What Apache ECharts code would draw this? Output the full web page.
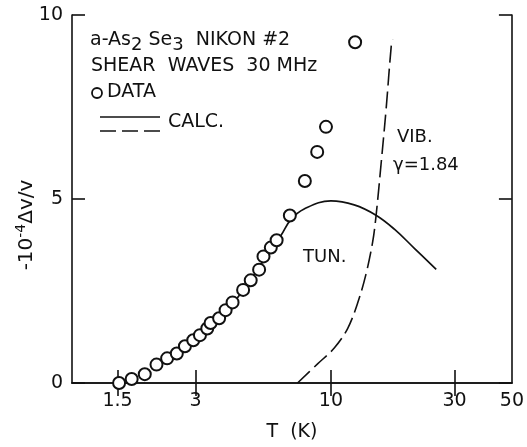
<!DOCTYPE html>
<html>
<head>
<meta charset="utf-8">
<script src="https://cdn.jsdelivr.net/npm/echarts@6/dist/echarts.min.js"></script>
<style>
  html, body { margin: 0; padding: 0; background: #fff; }
  #main { width: 527px; height: 447px; }
</style>
</head>
<body>
<div id="main"></div>
<script>
// measured data (T in K, -1e-4 dv/v)
var dataT = [1.52,1.70,1.91,2.12,2.33,2.54,2.73,2.94,3.12,3.33,3.43,3.70,3.92,4.17,4.58,4.90,5.28,5.49,5.86,6.17,6.94,7.93,8.85,9.57,12.4];
var dataV = [0.00,0.11,0.24,0.50,0.67,0.80,1.00,1.16,1.30,1.48,1.63,1.76,1.98,2.19,2.53,2.79,3.08,3.44,3.68,3.88,4.55,5.49,6.28,6.96,9.26];

// calculated: tunneling
var tunT = [3.0,4.0,5.0,5.7,6.41,7.0,7.88,10.0,12.3,14.93,17.58,21.0,25.5];
var tunV = [1.18,2.0,2.9,3.5,4.01,4.44,4.73,4.95,4.84,4.56,4.18,3.66,3.09];

// calculated: vibrational, gamma = 1.84
var vibT = [7.43,8.88,10.3,11.6,12.69,13.66,14.5,14.93,15.61,16.32,17.1,17.3];
var vibV = [0.0,0.52,0.95,1.48,2.18,2.96,3.84,4.53,5.93,7.41,9.16,9.33];

var xLabels = [1.5,3,10,30,50];
var xTicks = [1.5,3,10,30];

function pairs(xs, ys) {
    var out = [];
    for (var i = 0; i < xs.length; i++) out.push([xs[i], ys[i]]);
    return out;
}

var ink = '#111';
var font = 'DejaVu Sans';

var myChart = echarts.init(document.getElementById('main'));
var option = {
    backgroundColor: '#fff',
    animation: false,
    textStyle: { fontFamily: font, color: ink },
    grid: { left: 72, right: 13, top: 15, bottom: 51 },
    xAxis: [{
        type: 'log',
        logBase: 10,
        min: 1,
        max: 50,
        name: 'T  (K)',
        nameLocation: 'middle',
        nameGap: 40,
        nameTextStyle: { fontSize: 19, color: ink, fontFamily: font },
        axisLine: { lineStyle: { color: ink, width: 1.6 } },
        axisTick: { inside: true, length: 13, customValues: xTicks, lineStyle: { color: ink, width: 1.6 } },
        axisLabel: { customValues: xLabels, fontSize: 19, color: ink, margin: 9, fontFamily: font },
        splitLine: { show: false },
        minorTick: { show: false }
    }, {
        type: 'log',
        logBase: 10,
        min: 1,
        max: 50,
        position: 'top',
        axisLine: { lineStyle: { color: ink, width: 1.6 } },
        axisTick: { inside: true, length: 13, customValues: xTicks, lineStyle: { color: ink, width: 1.6 } },
        axisLabel: { show: false },
        splitLine: { show: false }
    }],
    yAxis: [{
        type: 'value',
        min: 0,
        max: 10,
        interval: 5,
        axisLine: { show: true, lineStyle: { color: ink, width: 1.6 } },
        axisTick: { show: true, inside: true, length: 13, lineStyle: { color: ink, width: 1.6 } },
        axisLabel: { fontSize: 19, color: ink, margin: 9, fontFamily: font },
        splitLine: { show: false }
    }, {
        type: 'value',
        min: 0,
        max: 10,
        interval: 5,
        position: 'right',
        axisLine: { show: true, lineStyle: { color: ink, width: 1.6 } },
        axisTick: { show: true, inside: true, length: 13, lineStyle: { color: ink, width: 1.6 } },
        axisLabel: { show: false },
        splitLine: { show: false }
    }],
    series: [{
        name: 'TUN.',
        type: 'line',
        data: pairs(tunT, tunV),
        smooth: 0.4,
        showSymbol: false,
        lineStyle: { color: ink, width: 1.7 },
        z: 2
    }, {
        name: 'VIB.',
        type: 'line',
        data: pairs(vibT, vibV),
        smooth: 0.35,
        showSymbol: false,
        lineStyle: { color: ink, width: 1.6, type: [17, 6] },
        z: 2
    }, {
        name: 'DATA',
        type: 'scatter',
        data: pairs(dataT, dataV),
        symbol: 'circle',
        symbolSize: 12,
        itemStyle: { color: '#fff', borderColor: ink, borderWidth: 2, opacity: 1 },
        z: 3
    }],
    graphic: [
        { type: 'text', x: 27, y: 225, rotation: Math.PI / 2, style: {
            text: '-10{sup|-4}Δv/v', fontSize: 20, fontFamily: font, fill: ink,
            align: 'center', verticalAlign: 'middle',
            rich: { sup: { fontSize: 14, padding: [0, 0, 12, 0], fontFamily: font, fill: ink } } } },
        { type: 'text', left: 90, top: 31, style: {
            text: 'a-As{sub|2} Se{sub|3}  NIKON #2', fontSize: 19, fontFamily: font, fill: ink,
            rich: { sub: { fontSize: 18, padding: [9, 0, 0, 0], fontFamily: font, fill: ink } } } },
        { type: 'text', left: 91, top: 57, style: { text: 'SHEAR  WAVES  30 MHz', fontSize: 19, fontFamily: font, fill: ink } },
        { type: 'circle', shape: { cx: 97, cy: 93, r: 5 }, style: { fill: '#fff', stroke: ink, lineWidth: 1.8 } },
        { type: 'text', left: 107, top: 83, style: { text: 'DATA', fontSize: 19, fontFamily: font, fill: ink } },
        { type: 'line', shape: { x1: 100, y1: 117, x2: 160, y2: 117 }, style: { stroke: ink, lineWidth: 1.7 } },
        { type: 'line', shape: { x1: 100, y1: 131, x2: 160, y2: 131 }, style: { stroke: ink, lineWidth: 1.7, lineDash: [16, 6] } },
        { type: 'text', left: 168, top: 113, style: { text: 'CALC.', fontSize: 19, fontFamily: font, fill: ink } },
        { type: 'text', left: 303, top: 248, style: { text: 'TUN.', fontSize: 18, fontFamily: font, fill: ink } },
        { type: 'text', left: 397, top: 128, style: { text: 'VIB.', fontSize: 18, fontFamily: font, fill: ink } },
        { type: 'text', left: 393, top: 156, style: { text: 'γ=1.84', fontSize: 18, fontFamily: font, fill: ink } }
    ]
};
myChart.setOption(option);
</script>
</body>
</html>
